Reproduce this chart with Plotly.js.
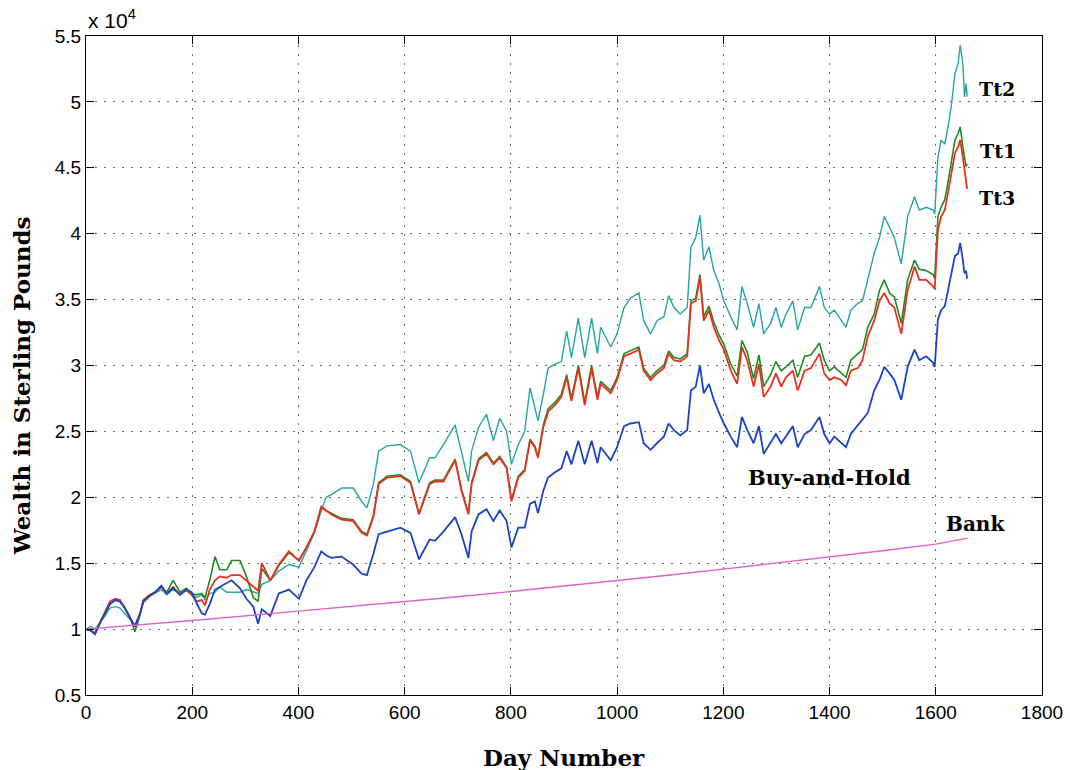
<!DOCTYPE html>
<html>
<head>
<meta charset="utf-8">
<script src="https://cdn.plot.ly/plotly-3.0.1.min.js"></script>
<style>html,body{margin:0;padding:0;background:#fff;}#chart{width:1070px;height:770px;}</style>
</head>
<body>
<div id="chart"></div>
<script>
// Day numbers at which the curves were read
const days = [
  0,8,17,23,29,36,45,55,64,73,83,92,102,108,120,130,142,152,164,177,189,199,208,218,224,233,243,252,265,274,290,302,315,324,
  331,347,363,382,401,415,430,443,452,462,481,503,519,529,541,551,567,592,611,627,647,
  657,673,695,707,720,726,739,754,767,779,792,801,814,826,836,845,851,861,870,883,895,905,914,927,939,952,
  963,969,988,1000,1013,1025,1041,1050,1063,1075,1088,1097,1107,1119,1132,1139,1148,1156,1163,1173,1182,1192,1201,1214,1226,1235,1245,1257,1267,1276,1289,
  1299,1309,1318,1331,1340,1353,1365,1381,1390,1400,1409,1422,1431,1440,1453,1462,1472,1484,1494,1503,1513,1522,1535,1547,1560,1569,
  1582,1595,1598,1604,1610,1617,1623,1629,1636,1642,1646,1651,1654,1657,1659
];
// Wealth, in units of 10^4 pounds
const tt2 = [
  1.00,1.02,1.00,1.03,1.06,1.10,1.16,1.17,1.16,1.12,1.07,1.03,1.12,1.20,1.25,1.27,1.30,1.26,1.30,1.27,1.29,1.26,1.24,1.26,1.22,1.27,1.28,1.32,1.28,1.28,1.28,1.30,1.28,1.27,
  1.34,1.37,1.44,1.49,1.47,1.59,1.73,1.90,2.00,2.02,2.07,2.07,1.97,1.92,2.10,2.35,2.39,2.40,2.35,2.11,2.30,
  2.30,2.40,2.55,2.35,2.12,2.35,2.53,2.63,2.43,2.60,2.50,2.25,2.40,2.50,2.83,2.68,2.58,2.78,2.98,3.01,3.03,3.26,3.06,3.36,3.06,3.36,
  3.09,3.29,3.14,3.24,3.44,3.51,3.55,3.34,3.24,3.34,3.37,3.53,3.44,3.39,3.44,3.90,3.97,4.14,3.80,3.90,3.72,3.62,3.49,3.37,3.27,3.60,3.47,3.29,3.47,3.24,3.32,
  3.44,3.29,3.39,3.49,3.27,3.44,3.44,3.60,3.44,3.39,3.42,3.34,3.29,3.42,3.47,3.49,3.65,3.85,3.97,4.13,4.05,3.97,3.77,4.13,4.28,4.18,
  4.20,4.18,4.15,4.58,4.71,4.68,4.81,4.96,5.21,5.29,5.43,5.29,5.04,5.14,5.04
];
const tt1 = [
  1.00,0.99,0.97,1.02,1.07,1.12,1.19,1.22,1.21,1.16,1.09,0.98,1.11,1.22,1.26,1.28,1.32,1.28,1.37,1.28,1.31,1.27,1.26,1.27,1.24,1.37,1.55,1.45,1.45,1.52,1.52,1.40,1.24,1.21,
  1.46,1.37,1.48,1.58,1.52,1.62,1.74,1.92,1.90,1.88,1.84,1.83,1.74,1.72,1.86,2.11,2.16,2.17,2.12,1.88,2.11,
  2.13,2.13,2.29,2.06,1.88,2.11,2.29,2.34,2.26,2.31,2.23,1.98,2.16,2.21,2.44,2.39,2.31,2.55,2.67,2.72,2.78,2.93,2.75,3.00,2.72,3.00,
  2.76,2.88,2.81,2.91,3.09,3.11,3.14,2.98,2.91,2.96,3.00,3.11,3.06,3.05,3.09,3.49,3.51,3.69,3.37,3.45,3.33,3.23,3.16,3.01,2.92,3.19,3.10,2.90,3.08,2.84,2.93,
  3.03,2.96,2.99,3.04,2.91,3.07,3.08,3.17,3.04,2.96,2.99,2.94,2.91,3.04,3.09,3.12,3.29,3.39,3.57,3.65,3.55,3.52,3.32,3.65,3.80,3.73,
  3.72,3.69,3.66,4.13,4.20,4.26,4.39,4.53,4.71,4.76,4.81,4.66,4.58,4.51,4.53
];
const tt3 = [
  1.00,0.99,0.97,1.02,1.07,1.13,1.21,1.23,1.22,1.16,1.09,1.02,1.12,1.22,1.26,1.28,1.32,1.27,1.32,1.26,1.30,1.26,1.21,1.22,1.18,1.30,1.37,1.40,1.39,1.41,1.41,1.37,1.32,1.29,
  1.50,1.37,1.49,1.59,1.52,1.62,1.74,1.93,1.90,1.87,1.83,1.82,1.73,1.71,1.85,2.10,2.15,2.16,2.11,1.87,2.10,
  2.12,2.12,2.28,2.05,1.87,2.10,2.28,2.33,2.25,2.30,2.22,1.97,2.15,2.20,2.43,2.38,2.30,2.53,2.65,2.70,2.76,2.91,2.73,2.98,2.70,2.98,
  2.74,2.86,2.79,2.89,3.07,3.09,3.12,2.96,2.89,2.94,2.98,3.09,3.04,3.03,3.07,3.47,3.49,3.67,3.34,3.42,3.29,3.19,3.12,2.96,2.86,3.14,3.04,2.84,3.01,2.76,2.84,
  2.94,2.84,2.91,2.96,2.81,2.96,2.98,3.09,2.94,2.89,2.91,2.89,2.85,2.96,2.98,3.04,3.22,3.34,3.49,3.55,3.47,3.44,3.24,3.57,3.75,3.65,
  3.65,3.60,3.58,4.03,4.13,4.18,4.31,4.46,4.61,4.66,4.71,4.58,4.48,4.38,4.34
];
const buyHold = [
  1.00,0.99,0.96,1.02,1.07,1.12,1.19,1.22,1.21,1.16,1.09,1.02,1.12,1.21,1.25,1.28,1.33,1.27,1.31,1.26,1.30,1.28,1.20,1.12,1.11,1.19,1.30,1.32,1.35,1.37,1.31,1.23,1.17,1.04,
  1.15,1.10,1.27,1.30,1.23,1.37,1.47,1.59,1.56,1.54,1.55,1.49,1.42,1.41,1.57,1.72,1.74,1.77,1.73,1.53,1.68,
  1.67,1.74,1.85,1.72,1.54,1.74,1.87,1.91,1.82,1.90,1.82,1.62,1.77,1.77,1.95,1.97,1.88,2.05,2.15,2.19,2.22,2.35,2.25,2.43,2.25,2.43,
  2.26,2.38,2.28,2.38,2.54,2.56,2.57,2.41,2.36,2.41,2.46,2.56,2.51,2.47,2.51,2.81,2.84,3.00,2.79,2.86,2.74,2.64,2.56,2.46,2.38,2.61,2.51,2.41,2.54,2.33,2.41,
  2.48,2.41,2.46,2.54,2.38,2.48,2.51,2.61,2.48,2.41,2.46,2.41,2.38,2.48,2.54,2.59,2.64,2.81,2.89,2.99,2.94,2.89,2.74,2.99,3.12,3.04,
  3.07,3.02,2.99,3.35,3.42,3.45,3.57,3.70,3.83,3.85,3.93,3.80,3.70,3.72,3.66
];
const bankDays = [0,100,200,300,400,500,600,700,800,900,1000,1100,1200,1300,1400,1500,1600,1660];
const bank = [1.00,1.03,1.065,1.10,1.135,1.17,1.21,1.245,1.285,1.325,1.37,1.41,1.455,1.50,1.55,1.595,1.645,1.69];

const xTicks = [0,200,400,600,800,1000,1200,1400,1600,1800];
const yTicks = [0.5,1,1.5,2,2.5,3,3.5,4,4.5,5,5.5];
const yTickText = ['0.5','1','1.5','2','2.5','3','3.5','4','4.5','5','5.5'];

const serif = 'DejaVu Serif, serif';
const sans = 'Liberation Sans, Arial, Helvetica, sans-serif';

const traces = [
  {x: days, y: tt2, name: 'Tt2', mode: 'lines', line: {color: '#22a6a6', width: 1.4}},
  {x: days, y: tt1, name: 'Tt1', mode: 'lines', line: {color: '#1e8c1e', width: 1.6}},
  {x: days, y: tt3, name: 'Tt3', mode: 'lines', line: {color: '#e8321e', width: 1.8}},
  {x: days, y: buyHold, name: 'Buy-and-Hold', mode: 'lines', line: {color: '#1a44c4', width: 1.8}},
  {x: bankDays, y: bank, name: 'Bank', mode: 'lines', line: {color: '#e060c8', width: 1.4}}
];

const axisCommon = {
  ticks: 'inside', ticklen: 8, tickwidth: 1, tickcolor: '#000',
  showline: true, linecolor: '#000', linewidth: 1, mirror: 'ticks',
  showgrid: true, gridcolor: '#6a6a6a', gridwidth: 1, griddash: '2px,7px',
  zeroline: false, tickfont: {family: sans, size: 19, color: '#000'}
};

const layout = {
  width: 1070, height: 770,
  paper_bgcolor: '#fff', plot_bgcolor: '#fff',
  margin: {l: 86, r: 28, t: 36, b: 75},
  showlegend: false,
  xaxis: Object.assign({}, axisCommon, {
    range: [0, 1800], tickvals: xTicks, ticktext: xTicks.map(String)
  }),
  yaxis: Object.assign({}, axisCommon, {
    range: [0.5, 5.5], tickvals: yTicks, ticktext: yTickText
  }),
  annotations: [
    {xref: 'paper', yref: 'paper', x: 0.5, y: -0.095, xanchor: 'center', yanchor: 'middle', showarrow: false,
     text: '<b>Day Number</b>', font: {family: serif, size: 23, color: '#000'}},
    {xref: 'paper', yref: 'paper', x: -0.068, y: 0.47, xanchor: 'center', yanchor: 'middle', showarrow: false,
     textangle: -90, text: '<b>Wealth in Sterling Pounds</b>', font: {family: serif, size: 23, color: '#000'}},
    {xref: 'paper', yref: 'paper', x: 0, y: 1, xanchor: 'left', yanchor: 'bottom', showarrow: false, yshift: 2,
     text: 'x 10<sup>4</sup>', font: {family: sans, size: 21, color: '#000'}},
    {x: 1716, y: 5.10, text: '<b>Tt2</b>', showarrow: false, font: {family: serif, size: 19, color: '#000'}},
    {x: 1718, y: 4.63, text: '<b>Tt1</b>', showarrow: false, font: {family: serif, size: 19, color: '#000'}},
    {x: 1716, y: 4.27, text: '<b>Tt3</b>', showarrow: false, font: {family: serif, size: 19, color: '#000'}},
    {x: 1400, y: 2.15, text: '<b>Buy-and-Hold</b>', showarrow: false, font: {family: serif, size: 21, color: '#000'}},
    {x: 1675, y: 1.80, text: '<b>Bank</b>', showarrow: false, font: {family: serif, size: 20, color: '#000'}}
  ]
};

Plotly.newPlot('chart', traces, layout, {displayModeBar: false, staticPlot: true});
</script>
</body>
</html>
